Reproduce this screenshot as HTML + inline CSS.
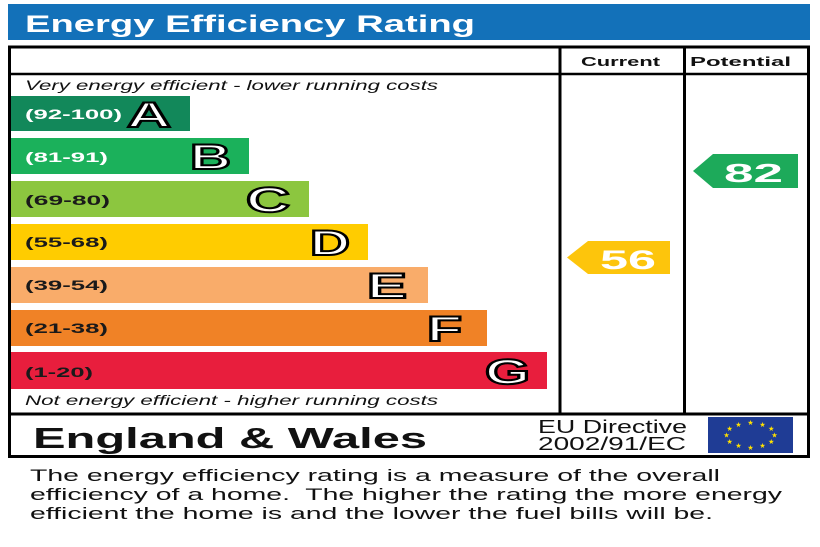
<!DOCTYPE html>
<html>
<head>
<meta charset="utf-8">
<style>
html,body{margin:0;padding:0;background:#fff;}
svg{display:block;}
text{font-family:"Liberation Sans",Arial,sans-serif;}
</style>
</head>
<body>
<svg width="820" height="547" viewBox="0 0 820 547" xmlns="http://www.w3.org/2000/svg">
  <rect x="0" y="0" width="820" height="547" fill="#fff"/>
  <!-- Title bar -->
  <rect x="8" y="4" width="802" height="36" fill="#1371b9"/>
  <text x="25" y="32" font-size="24" font-weight="bold" fill="#fff" textLength="450" lengthAdjust="spacingAndGlyphs">Energy Efficiency Rating</text>

  <!-- Bars -->
  <rect x="11" y="96" width="179" height="35" fill="#12885a"/>
  <rect x="11" y="138" width="238" height="36" fill="#1bb15b"/>
  <rect x="11" y="181" width="298" height="36" fill="#8cc63f"/>
  <rect x="11" y="224" width="357" height="36" fill="#ffcc00"/>
  <rect x="11" y="267" width="417" height="36" fill="#f9ac6a"/>
  <rect x="11" y="310" width="476" height="36" fill="#f08226"/>
  <rect x="11" y="352" width="536" height="37" fill="#e81e3d"/>

  <!-- Bar labels -->
  <g font-size="14" font-weight="bold">
    <text x="25" y="119" fill="#fff" textLength="97" lengthAdjust="spacingAndGlyphs">(92-100)</text>
    <text x="25" y="162" fill="#fff" textLength="83" lengthAdjust="spacingAndGlyphs">(81-91)</text>
    <text x="25" y="205" fill="#1a1a1a" textLength="85" lengthAdjust="spacingAndGlyphs">(69-80)</text>
    <text x="25" y="247" fill="#1a1a1a" textLength="83" lengthAdjust="spacingAndGlyphs">(55-68)</text>
    <text x="25" y="290" fill="#1a1a1a" textLength="83" lengthAdjust="spacingAndGlyphs">(39-54)</text>
    <text x="25" y="333" fill="#1a1a1a" textLength="83" lengthAdjust="spacingAndGlyphs">(21-38)</text>
    <text x="25" y="377" fill="#1a1a1a" textLength="68" lengthAdjust="spacingAndGlyphs">(1-20)</text>
  </g>

  <!-- Bar letters -->
  <g font-size="35" font-weight="bold" fill="#fff" stroke="#000" stroke-width="2">
    <text x="127" y="127" textLength="44" lengthAdjust="spacingAndGlyphs">A</text>
    <text x="190" y="169" textLength="41" lengthAdjust="spacingAndGlyphs">B</text>
    <text x="246" y="212" textLength="44" lengthAdjust="spacingAndGlyphs">C</text>
    <text x="310" y="255" textLength="40" lengthAdjust="spacingAndGlyphs">D</text>
    <text x="367" y="298" textLength="40" lengthAdjust="spacingAndGlyphs">E</text>
    <text x="427" y="341" textLength="35" lengthAdjust="spacingAndGlyphs">F</text>
    <text x="485" y="384" textLength="45" lengthAdjust="spacingAndGlyphs">G</text>
  </g>

  <!-- Italic notes -->
  <text x="25" y="90" font-size="14" font-style="italic" fill="#111" textLength="413" lengthAdjust="spacingAndGlyphs">Very energy efficient - lower running costs</text>
  <text x="25" y="405" font-size="14" font-style="italic" fill="#111" textLength="413" lengthAdjust="spacingAndGlyphs">Not energy efficient - higher running costs</text>

  <!-- Headers -->
  <text x="581" y="66" font-size="13" font-weight="bold" fill="#111" textLength="79" lengthAdjust="spacingAndGlyphs">Current</text>
  <text x="690" y="66" font-size="13" font-weight="bold" fill="#111" textLength="101" lengthAdjust="spacingAndGlyphs">Potential</text>

  <!-- Arrows -->
  <polygon points="567,257.5 588,241 670,241 670,274 588,274" fill="#fdc50c"/>
  <text x="600" y="269" font-size="27" font-weight="bold" fill="#fff" textLength="56" lengthAdjust="spacingAndGlyphs">56</text>
  <polygon points="693,171 713,154 798,154 798,188 713,188" fill="#1daa5a"/>
  <text x="724" y="182" font-size="26" font-weight="bold" fill="#fff" textLength="59" lengthAdjust="spacingAndGlyphs">82</text>

  <!-- Box lines -->
  <g stroke="#000" fill="none">
    <rect x="9.5" y="47" width="799" height="409.5" stroke-width="3"/>
    <line x1="9.5" y1="74" x2="808.5" y2="74" stroke-width="2.5"/>
    <line x1="9.5" y1="414" x2="808.5" y2="414" stroke-width="3"/>
    <line x1="560" y1="47" x2="560" y2="414" stroke-width="3"/>
    <line x1="684.5" y1="47" x2="684.5" y2="414" stroke-width="3"/>
  </g>

  <!-- Footer row -->
  <text x="33" y="448" font-size="29" font-weight="bold" fill="#111" textLength="394" lengthAdjust="spacingAndGlyphs">England &amp; Wales</text>
  <text x="538" y="433" font-size="18" fill="#111" textLength="149" lengthAdjust="spacingAndGlyphs">EU Directive</text>
  <text x="538" y="450" font-size="18" fill="#111" textLength="148" lengthAdjust="spacingAndGlyphs">2002/91/EC</text>

  <!-- EU flag -->
  <rect x="708" y="417" width="85" height="36" fill="#1f3c95"/>
  <g fill="#ffe000" font-size="7" font-family="DejaVu Sans, sans-serif" text-anchor="middle">
    <text x="750.5" y="425">★</text>
    <text x="762.5" y="427">★</text>
    <text x="771.3" y="431">★</text>
    <text x="774.5" y="437.5">★</text>
    <text x="771.3" y="444">★</text>
    <text x="762.5" y="448">★</text>
    <text x="750.5" y="450">★</text>
    <text x="738.5" y="448">★</text>
    <text x="729.7" y="444">★</text>
    <text x="726.5" y="437.5">★</text>
    <text x="729.7" y="431">★</text>
    <text x="738.5" y="427">★</text>
  </g>

  <!-- Description -->
  <g font-size="17" fill="#111">
    <text x="30" y="481" textLength="690" lengthAdjust="spacingAndGlyphs">The energy efficiency rating is a measure of the overall</text>
    <text x="30" y="500" textLength="752" lengthAdjust="spacingAndGlyphs" xml:space="preserve">efficiency of a home.  The higher the rating the more energy</text>
    <text x="30" y="519" textLength="683" lengthAdjust="spacingAndGlyphs">efficient the home is and the lower the fuel bills will be.</text>
  </g>
</svg>
</body>
</html>
